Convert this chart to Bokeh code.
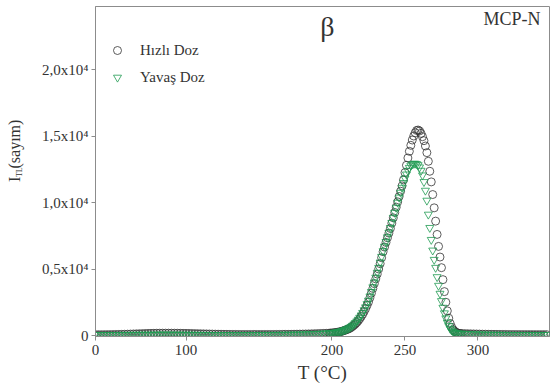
import math
from bokeh.plotting import figure
from bokeh.layouts import row
from bokeh.models import Range1d, FixedTicker, Label, Legend, LegendItem
from bokeh.core.properties import value
from bokeh.embed import file_html
from bokeh.resources import INLINE

# ---------------- data ----------------
T_low = list(range(38, 199, 2))
T_peak = list(range(199, 290))
T_high = list(range(291, 349, 2))
temperature = T_low + T_peak + T_high

hizli_low = [60, 60, 60, 62, 64, 66, 70, 74, 80, 86,
             92, 100, 108, 116, 124, 132, 140, 148, 155, 160,
             165, 170, 172, 174, 175, 175, 174, 172, 170, 166,
             162, 158, 153, 148, 142, 136, 130, 124, 118, 112,
             106, 100, 96, 92, 88, 85, 82, 80, 78, 76,
             75, 74, 73, 72, 72, 72, 72, 72, 73, 74,
             75, 76, 78, 80, 82, 84, 87, 90, 94, 98,
             103, 108, 114, 120, 127, 134, 142, 150, 158, 166,
             174]
hizli_peak = [182, 190, 200, 215, 230, 250, 270, 295, 325, 360,
              400, 440, 480, 530, 600, 680, 770, 870, 980, 1110,
              1260, 1420, 1600, 1800, 2020, 2260, 2520, 2840, 3180, 3540,
              3900, 4260, 4620, 5000, 5400, 5850, 6300, 6650, 7000, 7350,
              7700, 8050, 8450, 8850, 9250, 9650, 10050, 10450, 10850, 11250,
              11700, 12250, 12800, 13350, 13850, 14300, 14700, 15000, 15250, 15420,
              15450, 15380, 15200, 14950, 14650, 14250, 13750, 13100, 12350, 11550,
              10600, 9600, 8600, 7600, 6700, 5900, 5100, 4200, 3300, 2500,
              1850, 1300, 900, 620, 440, 320, 240, 190, 160, 150,
              145]
hizli_high = [140, 132, 125, 118, 112, 106, 100, 96, 92, 88,
              85, 82, 80, 78, 76, 74, 72, 71, 70, 69,
              68, 67, 66, 65, 64, 64, 64, 64, 64]

yavas_low = [50, 50, 50, 50, 50, 50, 50, 52, 54, 56,
             58, 60, 62, 64, 66, 68, 70, 72, 74, 75,
             76, 77, 78, 78, 78, 78, 77, 76, 75, 74,
             72, 70, 68, 66, 64, 62, 60, 58, 56, 55,
             54, 53, 52, 52, 51, 51, 50, 50, 50, 50,
             50, 50, 50, 50, 50, 51, 52, 53, 54, 55,
             56, 58, 60, 62, 64, 67, 70, 74, 78, 83,
             88, 94, 100, 107, 115, 124, 134, 145, 157, 170,
             184]
yavas_peak = [190, 200, 215, 230, 250, 270, 295, 320, 350, 390,
              430, 480, 530, 590, 660, 740, 840, 950, 1070, 1200,
              1350, 1520, 1710, 1910, 2130, 2370, 2630, 2950, 3290, 3640,
              4000, 4360, 4730, 5100, 5500, 5930, 6350, 6700, 7050, 7400,
              7750, 8100, 8480, 8860, 9240, 9620, 10000, 10380, 10750, 11120,
              11480, 11820, 12120, 12400, 12620, 12790, 12880, 12920, 12930, 12900,
              12820, 12650, 12400, 12050, 11550, 10900, 10150, 9100, 8100, 7200,
              6400, 5700, 5100, 4400, 3750, 3150, 2600, 2100, 1680, 1300,
              980, 720, 520, 380, 280, 220, 180, 160, 150, 145,
              140]
yavas_high = [135, 125, 115, 105, 97, 90, 84, 78, 74, 70,
              67, 64, 62, 60, 58, 56, 55, 54, 53, 52,
              51, 50, 50, 50, 50, 50, 50, 50, 50]

hizli = hizli_low + hizli_peak + hizli_high
yavas = yavas_low + yavas_peak + yavas_high

x_tick_values = [38, 100, 200, 250, 300]
x_tick_labels = ["0", "100", "200", "250", "300"]
y_tick_values = [0, 5000, 10000, 15000, 20000]
y_tick_labels = ["0", "0,5x10\u2074", "1,0x10\u2074", "1,5x10\u2074", "2,0x10\u2074"]

series_names = ["H\u0131zl\u0131 Doz", "Yava\u015f Doz"]
y_title_parts = ["I", "TL", "(say\u0131m)"]

FONT = "Liberation Serif"
AXC = "#8c8c8c"
TXT = "#333333"

# ---------------- side strip holding the y-axis title ----------------
side = figure(width=30, height=389, output_backend="svg", toolbar_location=None,
              x_range=Range1d(0, 30), y_range=Range1d(0, 389),
              min_border=0, min_border_left=0, min_border_right=0,
              min_border_top=0, min_border_bottom=0)
side.axis.visible = False
side.grid.visible = False
side.outline_line_color = None
side.text(x=[14], y=[182], text=[y_title_parts[0]], angle=math.pi / 2,
          text_font=value(FONT), text_font_size="16px", text_color=TXT,
          text_align="left", text_baseline="middle")
side.text(x=[19], y=[188], text=[y_title_parts[1]], angle=math.pi / 2,
          text_font=value(FONT), text_font_size="8px", text_color=TXT,
          text_align="left", text_baseline="middle")
side.text(x=[14], y=[198], text=[y_title_parts[2]], angle=math.pi / 2,
          text_font=value(FONT), text_font_size="16px", text_color=TXT,
          text_align="left", text_baseline="middle")

# ---------------- main plot ----------------
p = figure(width=521, height=389, output_backend="svg", toolbar_location=None,
           x_range=Range1d(38, 349), y_range=Range1d(-75, 24740),
           min_border_left=65, min_border_right=2, min_border_top=6,
           min_border_bottom=53)
p.grid.visible = False
p.outline_line_color = AXC
p.outline_line_width = 1

r1 = p.scatter(temperature, hizli, marker="circle", size=8, fill_color=None,
               line_color="#333333", line_width=0.8)
r2 = p.scatter(temperature, yavas, marker="inverted_triangle", size=8,
               fill_color=None, line_color="#1f9a52", line_width=0.8)

for ax in (p.xaxis[0], p.yaxis[0]):
    ax.axis_line_color = AXC
    ax.major_tick_line_color = AXC
    ax.minor_tick_line_color = None
    ax.major_tick_in = 0
    ax.major_tick_out = 4
    ax.major_label_text_font = FONT
    ax.major_label_text_font_size = "15px"
    ax.major_label_text_color = TXT

p.xaxis[0].ticker = FixedTicker(ticks=x_tick_values)
p.xaxis[0].major_label_overrides = dict(zip(x_tick_values, x_tick_labels))
p.xaxis[0].major_label_standoff = 4
p.xaxis[0].axis_label = "T (\u00b0C)"
p.xaxis[0].axis_label_text_font = FONT
p.xaxis[0].axis_label_text_font_size = "19px"
p.xaxis[0].axis_label_text_font_style = "normal"
p.xaxis[0].axis_label_text_color = TXT
p.xaxis[0].axis_label_standoff = 4

p.yaxis[0].ticker = FixedTicker(ticks=y_tick_values)
p.yaxis[0].major_label_overrides = dict(zip(y_tick_values, y_tick_labels))
p.yaxis[0].major_label_standoff = 3

p.add_layout(Label(x=196.9, y=23200, text="\u03b2", text_font=FONT,
                   text_font_size="28px", text_color=TXT, text_align="center",
                   text_baseline="middle"))
p.add_layout(Label(x=342.8, y=23763, text="MCP-N", text_font=FONT,
                   text_font_size="18px", text_color=TXT, text_align="right",
                   text_baseline="middle"))

legend = Legend(items=[LegendItem(label=series_names[0], renderers=[r1]),
                       LegendItem(label=series_names[1], renderers=[r2])],
                location=(12, 249), padding=0, margin=0, spacing=7,
                glyph_width=20, glyph_height=20, label_height=20,
                label_standoff=13, border_line_alpha=0, background_fill_alpha=0,
                label_text_font=FONT, label_text_font_size="15px",
                label_text_color=TXT)
p.add_layout(legend)

layout = row(side, p, spacing=0)
open("out.html", "w").write(file_html(layout, INLINE))
